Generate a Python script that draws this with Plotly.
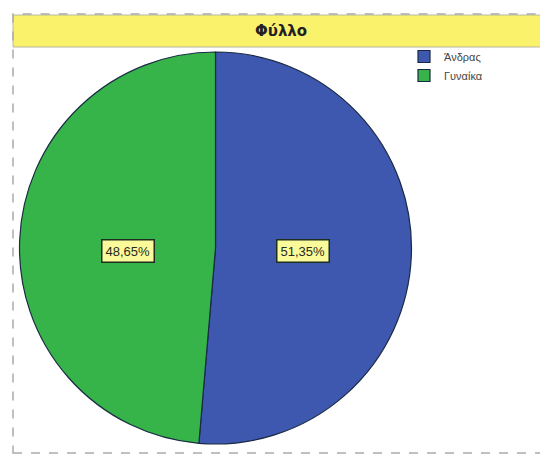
import math
import plotly.graph_objects as go

categories = ["Άνδρας", "Γυναίκα"]
values = [51.35, 48.65]
value_labels = ["51,35%", "48,65%"]
colors = ["#3d58ae", "#36b449"]
title_text = "Φύλλο"

# the page body adds an 8px margin; figure sized to fit the 548x456 window
OFF = 8
W, H = 548 - OFF, 456 - OFF


def px(sx):
    return (sx - OFF) / W


def py(sy):
    return 1 - (sy - OFF) / H


# pie: centre and radius in screen pixels
cx, cy, r = 215.5, 248, 196
dom_x = [px(cx - r), px(cx + r)]
dom_y = [py(cy + r), py(cy - r)]

fig = go.Figure(go.Pie(
    labels=categories,
    values=values,
    sort=False,
    direction="clockwise",
    rotation=0,
    marker=dict(colors=colors, line=dict(color="#1a2a44", width=1.2)),
    textinfo="none",
    hoverinfo="label+percent",
    domain=dict(x=dom_x, y=dom_y),
))

total = sum(values)
cum = 0
annotations = []
for v, lab in zip(values, value_labels):
    mid = (cum + v / 2) / total * 2 * math.pi
    cum += v
    lx = cx + 0.445 * r * math.sin(mid)
    ly = cy + 3
    annotations.append(dict(
        x=px(lx), y=py(ly), xref="paper", yref="paper",
        xanchor="center", yanchor="middle",
        text=lab, showarrow=False,
        font=dict(family="Liberation Sans, Arial", size=13, color="#2a2a1a"),
        bgcolor="#fafa9a", bordercolor="#1d2d20", borderwidth=1.5, borderpad=3,
    ))

annotations.append(dict(
    x=px((13 + 548) / 2), y=py(31), xref="paper", yref="paper",
    xanchor="center", yanchor="middle",
    text="<b>" + title_text + "</b>", showarrow=False,
    font=dict(family="DejaVu Sans, Arial", size=15, color="#222"),
))

shapes = [
    dict(type="rect", xref="paper", yref="paper",
         x0=px(13), x1=1.02, y0=py(453), y1=py(14),
         line=dict(color="#aaaaaa", width=1.5, dash="dash"), fillcolor="rgba(0,0,0,0)"),
    dict(type="rect", xref="paper", yref="paper",
         x0=px(13), x1=1.02, y0=py(47), y1=py(15),
         line=dict(color="#b8b8a0", width=1), fillcolor="#fbf26c", layer="below"),
]

fig.update_layout(
    width=W, height=H,
    margin=dict(l=0, r=0, t=0, b=0),
    paper_bgcolor="white",
    showlegend=True,
    legend=dict(x=px(404), y=py(42), xanchor="left", yanchor="top",
                font=dict(family="Liberation Sans, Arial", size=11, color="#444"),
                bgcolor="rgba(0,0,0,0)", tracegroupgap=0, itemwidth=30),
    annotations=annotations,
    shapes=shapes,
)

fig.write_html("out.html")
